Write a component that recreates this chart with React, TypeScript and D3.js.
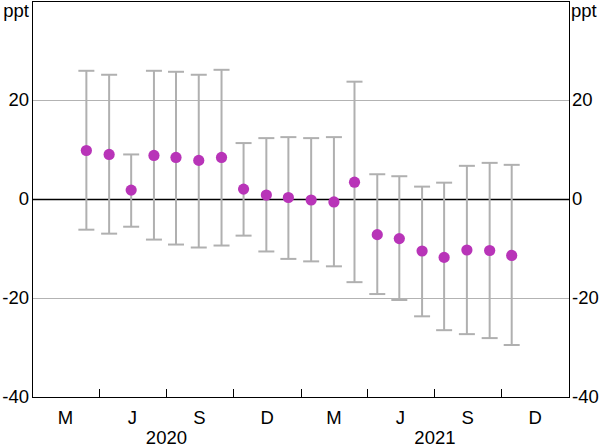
import React from "react";
import * as d3 from "d3";

const months: string[] = [
  "2020-03", "2020-04", "2020-05", "2020-06", "2020-07", "2020-08", "2020-09", "2020-10",
  "2020-11", "2020-12", "2021-01", "2021-02", "2021-03", "2021-04", "2021-05", "2021-06",
  "2021-07", "2021-08", "2021-09", "2021-10",
];
const estimate: number[] = [9.8, 9.0, 1.8, 8.8, 8.4, 7.8, 8.4, 2.0, 0.8, 0.3, -0.2, -0.6, 3.4, -7.2, -8.0, -10.5, -11.8, -10.3, -10.4, -11.4];
const upper: number[] = [25.9, 25.1, 9.0, 25.9, 25.7, 25.1, 26.1, 11.3, 12.3, 12.5, 12.3, 12.5, 23.7, 5.0, 4.6, 2.5, 3.3, 6.7, 7.3, 6.9];
const lower: number[] = [-6.2, -7.0, -5.6, -8.2, -9.2, -9.8, -9.4, -7.4, -10.6, -12.1, -12.6, -13.6, -16.8, -19.2, -20.4, -23.7, -26.5, -27.3, -28.1, -29.5];
const yTicks: number[] = [-40, -20, 0, 20];
const quarterLabels: string[] = ["M", "J", "S", "D", "M", "J", "S", "D"];
const years: string[] = ["2020", "2021"];

const W = 601;
const H = 448;
const L = 32;
const R = 569;
const T = 1;
const B = 397;
const FONT = "'Liberation Sans', Arial, sans-serif";

export default function App() {
  const x = d3.scaleTime().domain([new Date(2020, 0, 1), new Date(2022, 0, 1)]).range([L, R]);
  const y = d3.scaleLinear().domain([-40, 40]).range([B, T]);
  const quarters = d3.timeMonth.every(3)!.range(new Date(2020, 0, 1), new Date(2022, 0, 2));
  const pts = months.map((m, i) => {
    const [yy, mm] = m.split("-").map(Number);
    return { date: new Date(yy, mm - 1, 15), v: estimate[i], hi: upper[i], lo: lower[i] };
  });
  const cap = 8;
  const fs = 18.5;
  return (
    <svg width={W} height={H} style={{ position: "absolute", left: 0, top: 0, background: "#fff" }} fontFamily={FONT}>
      {yTicks.filter((t) => t !== 0 && t !== -40).map((t) => (
        <line key={t} x1={L} x2={R} y1={Math.round(y(t)) + 0.5} y2={Math.round(y(t)) + 0.5} stroke="#b3b3b3" strokeWidth={1} />
      ))}
      <line x1={L} x2={R} y1={Math.round(y(0)) + 0.5} y2={Math.round(y(0)) + 0.5} stroke="#000" strokeWidth={1.3} />
      {quarters.slice(1, -1).map((q, i) => (
        <line key={i} x1={Math.round(x(q)) + 0.5} x2={Math.round(x(q)) + 0.5} y1={B} y2={B - 8} stroke="#000" strokeWidth={1} />
      ))}
      {pts.map((p, i) => (
        <g key={i} stroke="#b0b0b0" strokeWidth={2}>
          <line x1={x(p.date)} x2={x(p.date)} y1={y(p.hi)} y2={y(p.lo)} />
          <line x1={x(p.date) - cap} x2={x(p.date) + cap} y1={y(p.hi)} y2={y(p.hi)} />
          <line x1={x(p.date) - cap} x2={x(p.date) + cap} y1={y(p.lo)} y2={y(p.lo)} />
        </g>
      ))}
      {pts.map((p, i) => (
        <circle key={i} cx={x(p.date)} cy={y(p.v)} r={5.6} fill="#b834b8" />
      ))}
      <rect x={L + 0.5} y={T + 0.5} width={R - L} height={B - T} fill="none" stroke="#000" strokeWidth={1} />
      {yTicks.map((t) => (
        <g key={t} fontSize={fs} fill="#000">
          <text x={L - 3} y={y(t)} dy="0.35em" textAnchor="end">{t}</text>
          <text x={R + 3} y={y(t)} dy="0.35em" textAnchor="start">{t}</text>
        </g>
      ))}
      <text x={L - 3} y={17} fontSize={fs} textAnchor="end">ppt</text>
      <text x={R + 2} y={17} fontSize={fs} textAnchor="start">ppt</text>
      {quarters.slice(0, -1).map((q, i) => {
        const next = quarters[i + 1];
        const cx = (x(q) + x(next)) / 2;
        return (
          <text key={i} x={cx} y={424} fontSize={fs} textAnchor="middle">{quarterLabels[i]}</text>
        );
      })}
      {years.map((yr, i) => {
        const a = x(new Date(2020 + i, 0, 1));
        const b = x(new Date(2021 + i, 0, 1));
        return (
          <text key={yr} x={(a + b) / 2} y={444} fontSize={fs} textAnchor="middle">{yr}</text>
        );
      })}
    </svg>
  );
}
